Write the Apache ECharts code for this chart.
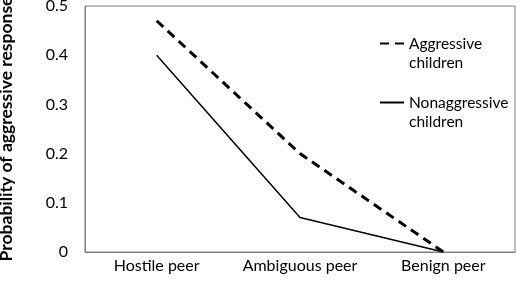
<!DOCTYPE html>
<html>
<head>
<meta charset="utf-8">
<script src="https://cdn.jsdelivr.net/npm/echarts@6/dist/echarts.min.js"></script>
<style>
  html, body { margin: 0; padding: 0; background: #fff; }
  #chart { width: 517px; height: 285px; }
</style>
</head>
<body>
<div id="chart"></div>
<script>
// data
const categories = ['Hostile peer', 'Ambiguous peer', 'Benign peer'];
const aggressive = [0.47, 0.2, 0];
const nonaggressive = [0.4, 0.07, 0];
const yTicks = [0, 0.1, 0.2, 0.3, 0.4, 0.5];

const font = 'Lato';
const chart = echarts.init(document.getElementById('chart'));

chart.setOption({
  animation: false,
  grid: {
    left: 85,
    top: 6,
    right: 2,
    bottom: 33,
    outerBoundsMode: 'none',
    show: true,
    borderColor: '#808080',
    borderWidth: 1,
  },
  legend: {
    orient: 'vertical',
    left: 379,
    top: 15,
    padding: 0,
    itemWidth: 24,
    itemHeight: 14,
    itemGap: 2,
    itemStyle: { opacity: 0 },
    textStyle: {
      fontFamily: font,
      fontSize: 15.5,
      color: '#000',
      lineHeight: 19,
    },
    // empty first line keeps the first word level with the icon
    formatter: (name) => '\n' + name.replace(' ', '\n'),
    data: ['Aggressive children', 'Nonaggressive children'],
  },
  xAxis: {
    type: 'category',
    data: categories,
    boundaryGap: true,
    axisLine: { show: true, lineStyle: { color: '#808080' } },
    axisTick: { show: false },
    axisLabel: { interval: 0, fontFamily: font, fontSize: 16, color: '#000', margin: 6 },
  },
  yAxis: {
    type: 'value',
    min: yTicks[0],
    max: yTicks[yTicks.length - 1],
    interval: 0.1,
    name: 'Probability of aggressive response',
    nameLocation: 'middle',
    nameGap: 70,
    nameTextStyle: { fontFamily: font, fontSize: 17.5, fontWeight: 'bold', color: '#000' },
    axisLine: { show: true, lineStyle: { color: '#808080' } },
    axisTick: { show: false },
    splitLine: { show: false },
    axisLabel: {
      fontFamily: font,
      fontSize: 16,
      color: '#000',
      margin: 17,
      formatter: (v) => String(Math.round(v * 10) / 10),
    },
  },
  series: [
    {
      name: 'Aggressive children',
      type: 'line',
      data: aggressive,
      symbol: 'none',
      lineStyle: { color: '#000', width: 3, type: [9, 6] },
      itemStyle: { color: '#000' },
    },
    {
      name: 'Nonaggressive children',
      type: 'line',
      data: nonaggressive,
      symbol: 'none',
      lineStyle: { color: '#000', width: 1.5 },
      itemStyle: { color: '#000' },
    },
  ],
});
</script>
</body>
</html>
